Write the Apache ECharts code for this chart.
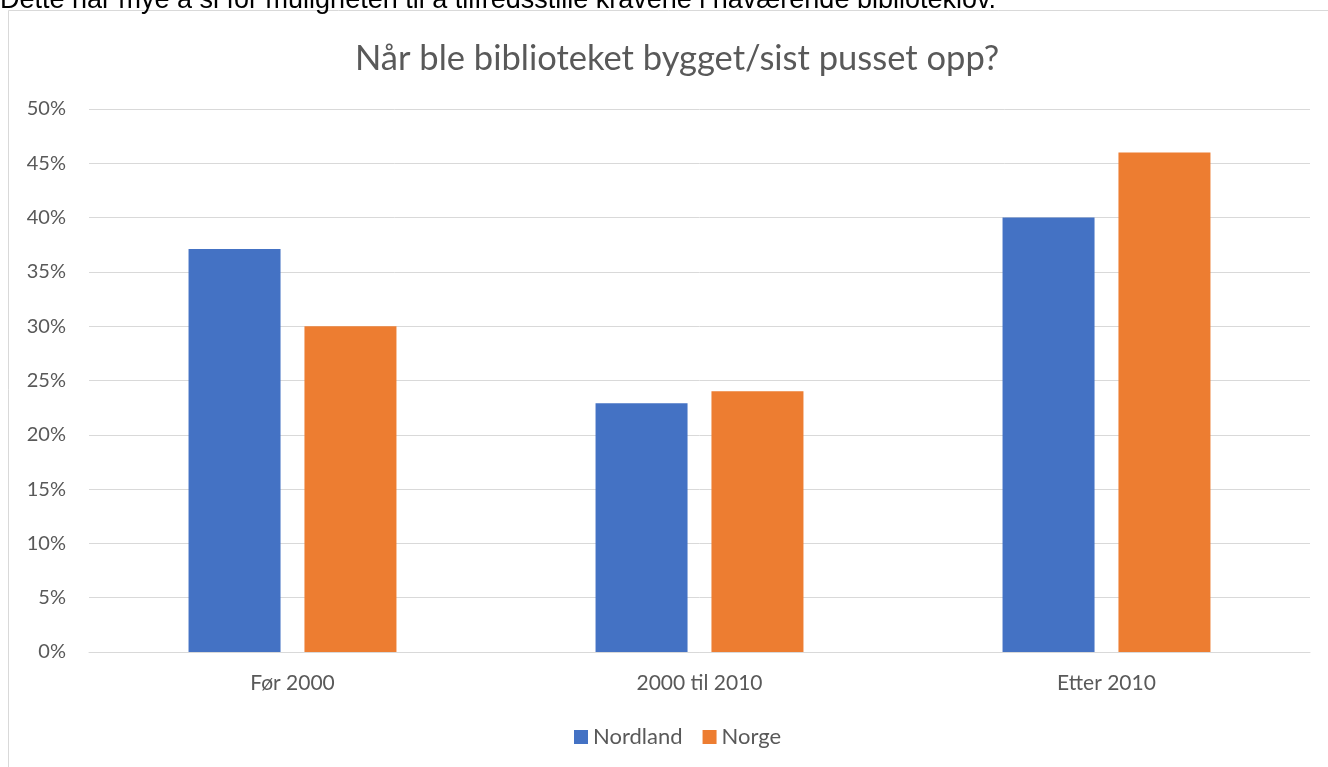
<!DOCTYPE html>
<html>
<head>
<meta charset="utf-8">
<script src="https://cdn.jsdelivr.net/npm/echarts@6/dist/echarts.min.js"></script>
<style>
  html, body { margin: 0; padding: 0; background: #fff; }
  #main { width: 1328px; height: 767px; }
</style>
</head>
<body>
<div id="main"></div>
<script>
// kategorier og verdier (prosent)
const categories = ['Før 2000', '2000 til 2010', 'Etter 2010'];
const nordland = [37.1, 22.9, 40.0];
const norge = [30.0, 24.0, 46.0];
const yTicks = [0, 5, 10, 15, 20, 25, 30, 35, 40, 45, 50];

const chart = echarts.init(document.getElementById('main'));

const option = {
  backgroundColor: '#fff',
  animation: false,
  title: {
    text: 'Når ble biblioteket bygget/sist pusset opp?',
    left: 350,
    top: 36,
    textStyle: {
      color: '#595959',
      fontFamily: 'Lato',
      fontWeight: 'normal',
      fontSize: 34.5
    }
  },
  graphic: [
    {
      // ramme rundt diagrammet
      type: 'rect',
      shape: { x: 8.5, y: 10.5, width: 1340, height: 780 },
      style: { fill: 'none', stroke: '#d9d9d9', lineWidth: 1 }
    },
    {
      // avkuttet tekst over diagrammet
      type: 'text',
      left: 0,
      top: -13,
      style: {
        text: 'Dette har mye å si for muligheten til å tilfredsstille kravene i nåværende biblioteklov.',
        fill: '#000',
        font: '27px "Liberation Sans"'
      }
    }
  ],
  legend: {
    bottom: 14,
    left: 569,
    itemWidth: 14,
    itemHeight: 14,
    itemGap: 20,
    icon: 'rect',
    textStyle: { color: '#595959', fontFamily: 'Lato', fontSize: 22 },
    data: ['Nordland', 'Norge']
  },
  grid: {
    left: 89,
    right: 18,
    top: 109,
    bottom: 115
  },
  xAxis: {
    type: 'category',
    data: categories,
    axisLine: { lineStyle: { color: '#d9d9d9', width: 1 } },
    axisTick: { show: false },
    axisLabel: { color: '#595959', fontFamily: 'Lato', fontSize: 21, margin: 21 }
  },
  yAxis: {
    type: 'value',
    min: 0,
    max: 50,
    interval: 5,
    axisLine: { show: false },
    axisTick: { show: false },
    splitLine: { lineStyle: { color: '#d9d9d9', width: 1 } },
    axisLabel: {
      color: '#595959',
      fontFamily: 'Lato',
      fontSize: 20,
      margin: 23,
      formatter: function (v) {
        return yTicks.indexOf(v) >= 0 ? v + '%' : '';
      }
    }
  },
  series: [
    {
      name: 'Nordland',
      type: 'bar',
      data: nordland,
      barWidth: 92,
      barGap: '26%',
      itemStyle: { color: '#4472c4' }
    },
    {
      name: 'Norge',
      type: 'bar',
      data: norge,
      barWidth: 92,
      itemStyle: { color: '#ed7d31' }
    }
  ]
};

chart.setOption(option);
</script>
</body>
</html>
